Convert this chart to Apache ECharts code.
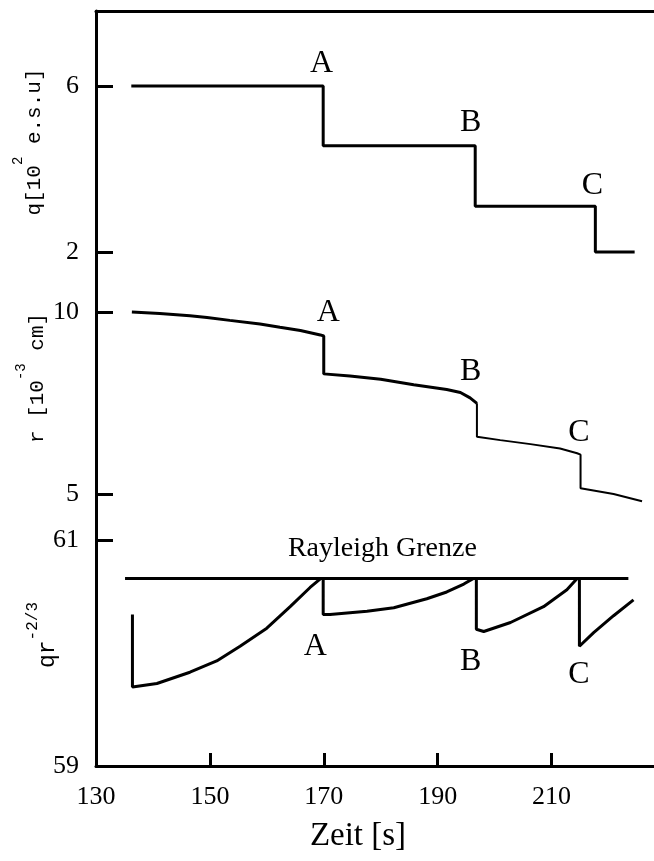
<!DOCTYPE html>
<html>
<head>
<meta charset="utf-8">
<script src="https://cdn.jsdelivr.net/npm/echarts@6/dist/echarts.min.js"></script>
<style>
  html, body { margin: 0; padding: 0; background: #fff; }
  #main { width: 654px; height: 861px; }
</style>
</head>
<body>
<div id="main"></div>
<script>
// time axis [s]
const xTicks = [130, 150, 170, 190, 210];

// charge q [10^2 e.s.u], drops at A, B, C
const qTime = [136.2, 169.9, 196.6, 217.7, 224.6];
const qValue = [6, 4.56, 3.1, 2, 2];

// radius r [10^-3 cm]
const rTime = [136.3, 141.2, 146.5, 149.5, 153.5, 158.8, 162.3, 165.9, 169.4, 170.0,
  170.0, 174.6, 180.0, 185.8, 191.6, 194.0, 195.7, 196.9,
  196.9, 201.0, 206.3, 211.5, 214.5, 215.1, 215.1, 220.9, 225.9];
const rValue = [10, 9.96, 9.90, 9.85, 9.77, 9.67, 9.58, 9.49, 9.37, 9.34,
  8.30, 8.24, 8.15, 8.00, 7.87, 7.79, 7.64, 7.49,
  6.57, 6.48, 6.37, 6.25, 6.12, 6.08, 5.16, 5.00, 4.80];
const rThinFrom = 18; // after B the trace is drawn thinner

// q r^-2/3
const sTime = [136.4, 136.4, 140.7, 146.5, 151.2, 155.3, 160.0, 164.1, 167.6, 169.5, 169.9,
  169.9, 171.1, 177.6, 182.3, 188.1, 191.6, 194.6, 196.3, 196.8,
  196.8, 198.1, 202.8, 208.6, 212.7, 214.5, 214.9,
  214.9, 217.4, 220.9, 224.4];
const sValue = [60.34, 59.70, 59.73, 59.83, 59.93, 60.06, 60.22, 60.41, 60.58, 60.66, 60.66,
  60.34, 60.34, 60.37, 60.40, 60.48, 60.54, 60.61, 60.66, 60.66,
  60.21, 60.19, 60.27, 60.41, 60.56, 60.66, 60.66,
  60.06, 60.18, 60.33, 60.47];

// Rayleigh limit
const rayleighTime = [135.1, 223.5];
const rayleighValue = 60.66;
const rayleighText = 'Rayleigh Grenze';
const rayleighNote = [180.3, 60.92];

// event labels
const eventNames = ['A', 'B', 'C'];
const qNoteTime = [169.6, 195.8, 217.2];
const qNoteValue = [6.55, 5.11, 3.61];
const rNoteTime = [170.8, 195.8, 214.8];
const rNoteValue = [9.98, 8.36, 6.68];
const sNoteTime = [168.5, 195.8, 214.8];
const sNoteValue = [60.06, 59.92, 59.81];

const serif = '"Liberation Serif", "Times New Roman", serif';
const mono = '"Liberation Mono", "Courier New", monospace';
const zip = (a, b) => a.map((v, i) => [v, Array.isArray(b) ? b[i] : b]);

function panelY(gridIndex, min, max) {
  return {
    gridIndex, type: 'value', min, max,
    axisLine: { show: false },
    axisTick: { show: true, inside: true, length: 17, lineStyle: { color: '#000', width: 3 }, customValues: [min, max] },
    axisLabel: { customValues: [min, max], color: '#000', fontFamily: serif, fontSize: 26, margin: 17 },
    splitLine: { show: false }
  };
}
function hiddenX(gridIndex) {
  return { gridIndex, type: 'value', min: 130, max: 228, show: false };
}
// panel p uses xAxis p+1 (xAxis 0/1 are the frame) and yAxis p
function line(p, data, width) {
  return {
    type: 'line', xAxisIndex: p + 1, yAxisIndex: p, data, symbol: 'none', clip: false,
    lineStyle: { color: '#000', width }, silent: true
  };
}
function notes(p, data, names, size) {
  return {
    type: 'scatter', xAxisIndex: p + 1, yAxisIndex: p, data, symbolSize: 0, clip: false, silent: true,
    itemStyle: { color: '#000', opacity: 1 },
    label: {
      show: true, position: 'inside', formatter: d => names[d.dataIndex],
      color: '#000', opacity: 1, textBorderWidth: 0, fontFamily: serif, fontSize: size
    }
  };
}
function title(x, y, main, sup, size, supSize) {
  return {
    type: 'text', x, y, rotation: Math.PI / 2,
    style: {
      text: main.map((m, i) => '{m|' + m + '}' + (sup[i] ? '{s|' + sup[i] + '}' : '')).join(''),
      align: 'center', verticalAlign: 'middle',
      rich: {
        m: { fontFamily: mono, fontSize: size, fill: '#000', lineHeight: size + 12, verticalAlign: 'bottom' },
        s: { fontFamily: mono, fontSize: supSize, fill: '#000', lineHeight: supSize, verticalAlign: 'top' }
      }
    }
  };
}

const rData = zip(rTime, rValue);

const chart = echarts.init(document.getElementById('main'));
chart.setOption({
  animation: false,
  backgroundColor: '#fff',
  grid: [
    { left: 96, right: 0, top: 11, bottom: 95 },
    { left: 96, right: 0, top: 86, height: 166 },
    { left: 96, right: 0, top: 312, height: 182 },
    { left: 96, right: 0, top: 540, height: 226 }
  ],
  xAxis: [
    {
      gridIndex: 0, type: 'value', min: 130, max: 228, position: 'bottom',
      axisLine: { lineStyle: { color: '#000', width: 3 } },
      axisTick: { inside: true, length: 13, lineStyle: { color: '#000', width: 3 }, customValues: [150, 170, 190, 210] },
      axisLabel: { customValues: xTicks, color: '#000', fontFamily: serif, fontSize: 26, margin: 18 },
      splitLine: { show: false },
      name: 'Zeit [s]', nameLocation: 'middle', nameGap: 54,
      nameTextStyle: { color: '#000', fontFamily: serif, fontSize: 33, padding: [0, 34, 0, 0] }
    },
    {
      gridIndex: 0, type: 'value', min: 130, max: 228, position: 'top',
      axisLine: { lineStyle: { color: '#000', width: 3 } },
      axisTick: { show: false }, axisLabel: { show: false }, splitLine: { show: false }
    },
    hiddenX(1), hiddenX(2), hiddenX(3)
  ],
  yAxis: [
    {
      gridIndex: 0, type: 'value', min: 0, max: 1,
      axisLine: { show: true, lineStyle: { color: '#000', width: 3 } },
      axisTick: { show: false }, axisLabel: { show: false }, splitLine: { show: false }
    },
    panelY(1, 2, 6),
    panelY(2, 5, 10),
    panelY(3, 59, 61)
  ],
  graphic: [
    title(28, 142, ['q[10', ' e.s.u]'], ['2'], 21, 14),
    title(31, 378, ['r [10', ' cm]'], ['-3'], 21, 14),
    title(42, 635, ['qr'], ['-2/3'], 23, 16)
  ],
  series: [
    Object.assign(line(1, zip(qTime, qValue), 3), { step: 'end' }),
    line(2, rData.slice(0, rThinFrom), 3),
    line(2, rData.slice(rThinFrom - 1), 2),
    line(3, zip(rayleighTime, rayleighValue), 3),
    line(3, zip(sTime, sValue), 3),
    notes(1, zip(qNoteTime, qNoteValue), eventNames, 32),
    notes(2, zip(rNoteTime, rNoteValue), eventNames, 32),
    notes(3, zip(sNoteTime, sNoteValue), eventNames, 32),
    notes(3, [rayleighNote], [rayleighText], 28)
  ]
});
</script>
</body>
</html>
